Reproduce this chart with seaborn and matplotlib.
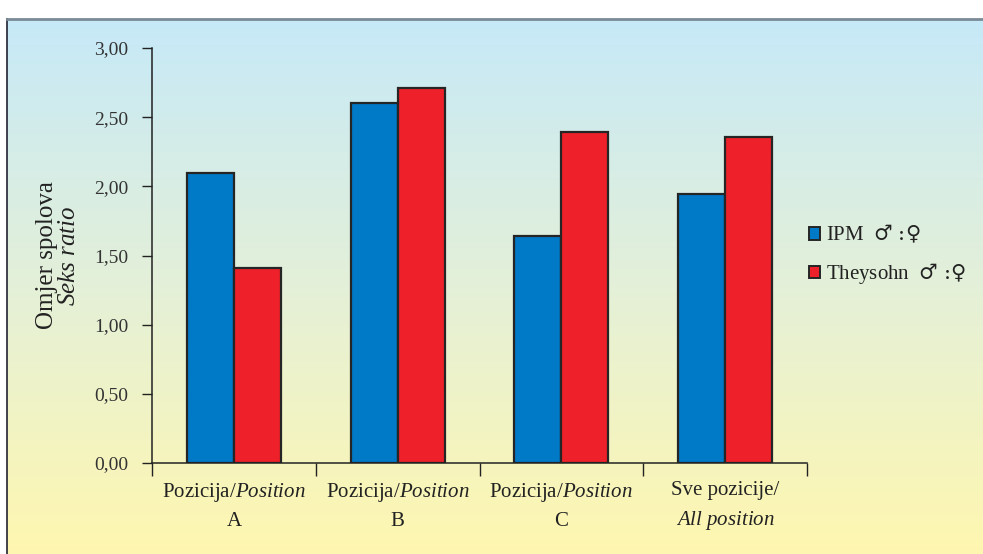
import numpy as np
import pandas as pd
import matplotlib
matplotlib.use("Agg")
import matplotlib.pyplot as plt
from matplotlib.colors import LinearSegmentedColormap
from matplotlib.patches import Patch
from matplotlib.ticker import FuncFormatter, FixedLocator
import seaborn as sns

# Data
categories = ["A", "B", "C", "All"]
cat_labels = ["Pozicija/$\\mathit{Position}$\nA",
              "Pozicija/$\\mathit{Position}$\nB",
              "Pozicija/$\\mathit{Position}$\nC",
              "Sve pozicije/\n$\\mathit{All\\ position}$"]
series = ["IPM", "Theysohn"]
series_labels = ["IPM  $\\mathsf{\u2642\\,:\\!\u2640}$",
                 "Theysohn  $\\mathsf{\u2642\\,:\\!\u2640}$"]
ipm = [2.10, 2.60, 1.64, 1.945]
theysohn = [1.41, 2.71, 2.39, 2.36]
yticks = [0.0, 0.5, 1.0, 1.5, 2.0, 2.5, 3.0]

sns.set_theme(style="white")
plt.rcParams["font.family"] = ["Liberation Serif", "DejaVu Serif"]
plt.rcParams["mathtext.fontset"] = "custom"
plt.rcParams["mathtext.rm"] = "Liberation Serif"
plt.rcParams["mathtext.it"] = "Liberation Serif:italic"
plt.rcParams["mathtext.sf"] = "DejaVu Serif"

df = pd.DataFrame({
    "cat": categories * 2,
    "series": [series[0]] * 4 + [series[1]] * 4,
    "value": ipm + theysohn,
})

W, H = 983, 554
fig = plt.figure(figsize=(W / 100, H / 100), dpi=100)
fig.patch.set_facecolor("white")

# Gradient backdrop panel
bg = fig.add_axes([7 / W, 0, 1 - 7 / W, 1 - 19 / H], zorder=-10)
grad = LinearSegmentedColormap.from_list(
    "bg", ["#fff7b0", "#e4f0d8", "#c6e9f8"])
bg.imshow(np.linspace(0, 1, 256)[:, None], aspect="auto", cmap=grad,
          origin="lower", extent=[0, 1, 0, 1])
bg.set_xlim(0, 1)
bg.set_ylim(0, 1)
bg.set_xticks([])
bg.set_yticks([])
for s in ["right", "bottom"]:
    bg.spines[s].set_visible(False)
bg.spines["top"].set_color("#7a8a96")
bg.spines["top"].set_linewidth(2.0)
bg.spines["left"].set_color("#222233")
bg.spines["left"].set_linewidth(1.2)

ax = fig.add_axes([152 / W, 1 - 463 / H, (807 - 152) / W, (463 - 48) / H])
ax.patch.set_alpha(0)
sns.barplot(data=df, x="cat", y="value", hue="series", order=categories,
            hue_order=series, palette=["#0079c6", "#ee2029"], width=0.575,
            edgecolor="#252525", linewidth=1.6, saturation=1, ax=ax,
            legend=False)

ax.set_xlim(-0.5, 3.5)
ax.set_ylim(0, 3.0)
ax.set_yticks(yticks)
ax.yaxis.set_major_formatter(FuncFormatter(lambda v, p: f"{v:.2f}".replace(".", ",")))
ax.set_xticks(range(4))
ax.set_xticklabels(cat_labels, fontsize=15, linespacing=1.55, color="#222222")
ax.xaxis.set_minor_locator(FixedLocator([-0.5, 0.5, 1.5, 2.5, 3.5]))
ax.tick_params(axis="x", which="major", length=0, pad=13)
ax.tick_params(axis="x", which="minor", length=9, width=1, color="#222222",
               direction="out", bottom=True)
ax.tick_params(axis="y", length=7, width=1, color="#222222", direction="out",
               left=True, labelsize=14, labelcolor="#333333", pad=10)
for lab in ax.get_xticklabels():
    lab.set_verticalalignment("top")
    lab.set_horizontalalignment("center")
    lab.set_multialignment("center")

for s in ["top", "right"]:
    ax.spines[s].set_visible(False)
for s in ["left", "bottom"]:
    ax.spines[s].set_color("#222222")
    ax.spines[s].set_linewidth(1.1)

ax.set_xlabel("")
ax.set_ylabel("Omjer spolova\n$\\mathit{Seks\\ ratio}$", fontsize=18,
              color="#222222", linespacing=1.0, labelpad=10)

handles = [Patch(facecolor=c, edgecolor="#252525", linewidth=1.4)
           for c in ["#0079c6", "#ee2029"]]
fig.legend(handles, series_labels, loc="center left",
           bbox_to_anchor=(790 / W, 1 - 255 / H), frameon=False,
           fontsize=15, handlelength=0.55, handleheight=0.55,
           handletextpad=0.3, labelspacing=0.75, labelcolor="#222222")

fig.savefig("out.png", dpi=100)
